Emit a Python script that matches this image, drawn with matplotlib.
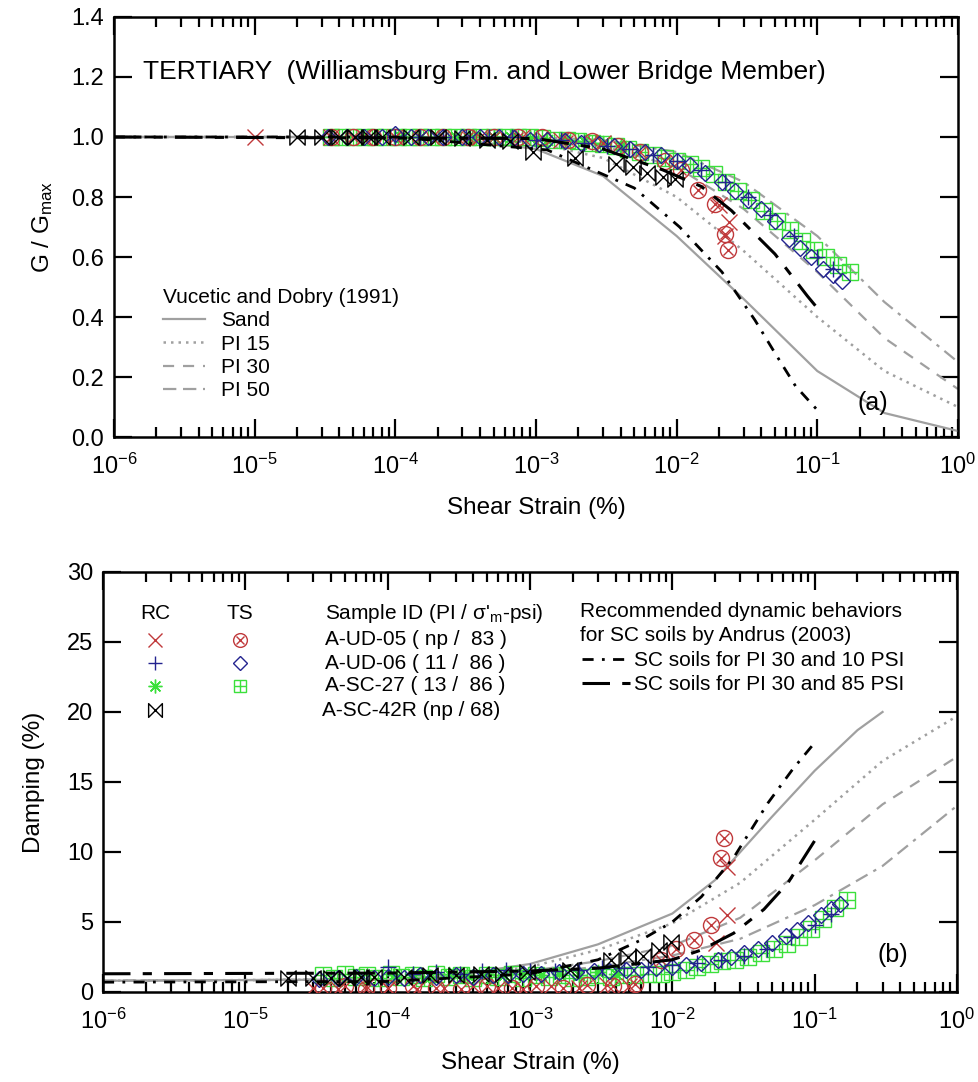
import numpy as np
import matplotlib.pyplot as plt
from matplotlib.path import Path
from matplotlib.ticker import FixedLocator, LogLocator, FuncFormatter, NullFormatter, MultipleLocator

plt.rcParams['font.family'] = ['Liberation Sans', 'DejaVu Sans']
plt.rcParams['mathtext.fontset'] = 'custom'
plt.rcParams['mathtext.rm'] = 'Liberation Sans'
plt.rcParams['mathtext.it'] = 'Liberation Sans:italic'

# ---------------- data: G/Gmax (top panel) ----------------
decades = [1e-6, 1e-5, 1e-4, 1e-3, 1e-2, 1e-1, 1.0]

# Vucetic and Dobry (1991)
vd_strain = [1e-6, 1e-4, 3e-4, 1e-3, 3e-3, 1e-2, 3e-2, 1e-1, 3e-1, 1.0]
vd_sand_g = [1.0, 1.0, 0.99, 0.96, 0.87, 0.67, 0.46, 0.22, 0.08, 0.02]
vd_pi15_g = [1.0, 1.0, 1.0, 0.98, 0.93, 0.80, 0.62, 0.40, 0.22, 0.10]
vd_pi30_g = [1.0, 1.0, 1.0, 1.0, 0.97, 0.90, 0.76, 0.55, 0.33, 0.16]
vd_pi50_g = [1.0, 1.0, 1.0, 1.0, 0.99, 0.95, 0.85, 0.67, 0.45, 0.25]

# Andrus (2003) SC soils, PI 30
and10_strain_g = [1e-6, 1e-4, 1.2e-3, 5e-3, 1.05e-2, 2.1e-2, 3.6e-2, 5e-2, 7e-2, 1e-1]
and10_g = [1.0, 1.0, 0.957, 0.83, 0.70, 0.55, 0.39, 0.28, 0.17, 0.09]
and85_strain_g = [1e-6, 1e-3, 3e-3, 8e-3, 1.5e-2, 2.45e-2, 5e-2, 8.5e-2, 1e-1]
and85_g = [1.0, 0.995, 0.96, 0.89, 0.835, 0.755, 0.61, 0.47, 0.43]

# A-UD-05 (red)
ud05_rc_strain_g = [1e-5, 3.5e-5, 6e-5, 1e-4, 2e-4, 4e-4, 8e-4, 1.5e-3, 3e-3, 1.99e-2, 2.2e-2, 2.35e-2]
ud05_rc_g = [1.0, 1.0, 1.0, 1.0, 1.0, 1.0, 1.0, 0.99, 0.98, 0.773, 0.67, 0.717]
ud05_ts_strain = [3.5e-5, 5e-5, 7e-5, 1e-4, 1.5e-4, 2.2e-4, 3.3e-4, 5e-4, 7.5e-4, 1.1e-3,
                  1.7e-3, 2.5e-3, 3.8e-3, 5.5e-3, 8.3e-3, 1.07e-2, 1.41e-2, 1.86e-2, 2.19e-2, 2.3e-2]
ud05_ts_g = [1.0, 1.0, 1.0, 1.0, 1.0, 1.0, 1.0, 1.0, 1.0, 1.0,
             0.99, 0.985, 0.97, 0.95, 0.92, 0.89, 0.823, 0.777, 0.677, 0.623]

# A-UD-06 (blue)
ud06_rc_strain = [1e-4, 1.5e-4, 2.2e-4, 3.2e-4, 4.6e-4, 6.8e-4, 1e-3, 1.5e-3, 2.2e-3, 3.2e-3,
                  4.6e-3, 6.8e-3, 1e-2, 1.5e-2, 2.2e-2, 3.2e-2, 4.6e-2, 6.8e-2, 1e-1, 1.3e-1]
ud06_rc_g = [1.0, 1.0, 1.0, 1.0, 1.0, 1.0, 0.99, 0.99, 0.98, 0.97,
             0.96, 0.94, 0.92, 0.89, 0.85, 0.80, 0.74, 0.67, 0.60, 0.56]
ud06_ts_strain = [3.3e-5, 4.5e-5, 6e-5, 8e-5, 1e-4, 1.3e-4, 1.7e-4, 2.2e-4, 3e-4, 4e-4,
                  5.5e-4, 7e-4, 9e-4, 1.2e-3, 1.6e-3, 2.1e-3, 2.8e-3, 3.6e-3, 4.7e-3, 6e-3,
                  7.7e-3, 1e-2, 1.25e-2, 1.6e-2, 2.1e-2, 2.6e-2, 3.2e-2, 4e-2, 5e-2, 6.3e-2,
                  7.5e-2, 9e-2, 1.1e-1, 1.3e-1, 1.5e-1]
ud06_ts_g = [1.0, 1.0, 1.0, 1.0, 1.01, 1.0, 1.0, 1.0, 1.0, 1.0,
             1.0, 0.995, 0.99, 0.99, 0.985, 0.98, 0.975, 0.97, 0.96, 0.95,
             0.94, 0.92, 0.905, 0.88, 0.85, 0.82, 0.79, 0.76, 0.72, 0.66,
             0.63, 0.60, 0.56, 0.54, 0.52]

# A-SC-27 (green)
sc27_rc_strain = [1.1e-4, 1.5e-4, 2e-4, 2.7e-4, 3.6e-4, 5e-4, 6.6e-4, 9e-4, 1.2e-3, 1.6e-3,
                  2.2e-3, 3e-3, 4e-3]
sc27_rc_g = [1.0, 1.0, 1.0, 1.0, 1.0, 1.0, 1.0, 0.995, 0.99, 0.99, 0.985, 0.98, 0.97]
sc27_ts_strain = [3.5e-5, 4.2e-5, 5e-5, 6e-5, 7.2e-5, 8.6e-5, 1.05e-4, 1.25e-4, 1.5e-4, 1.8e-4,
                  2.2e-4, 2.7e-4, 3.3e-4, 4e-4, 5e-4, 6e-4, 7.5e-4, 9e-4, 1.1e-3, 1.35e-3,
                  1.65e-3, 2e-3, 2.5e-3, 3e-3, 3.7e-3, 4.5e-3, 5.5e-3, 6.8e-3, 8.3e-3, 1e-2,
                  1.25e-2, 1.5e-2, 1.85e-2, 2.25e-2, 2.75e-2, 3.4e-2, 4.2e-2, 5.2e-2, 6.4e-2, 7.8e-2,
                  9.5e-2, 1.15e-1, 1.4e-1, 1.7e-1]
sc27_ts_g = [1.0, 1.0, 1.0, 1.0, 1.0, 1.0, 1.0, 1.0, 1.0, 1.0,
             1.0, 1.0, 1.0, 1.0, 1.0, 1.0, 1.0, 1.0, 0.995, 0.99,
             0.99, 0.985, 0.98, 0.975, 0.97, 0.96, 0.95, 0.94, 0.93, 0.92,
             0.91, 0.895, 0.875, 0.85, 0.82, 0.79, 0.755, 0.72, 0.69, 0.655,
             0.625, 0.60, 0.575, 0.55]

# A-SC-42R (black)
sc42_strain = [2e-5, 3e-5, 4e-5, 5.2e-5, 6.5e-5, 8e-5, 1.3e-4, 2e-4, 3e-4, 4.5e-4,
               6.5e-4, 9.5e-4, 1.9e-3, 3.7e-3, 4.9e-3, 6.2e-3, 8e-3, 9.8e-3]
sc42_g = [1.0, 1.0, 1.0, 1.0, 1.0, 1.0, 1.0, 1.0, 0.995, 0.99,
          0.985, 0.95, 0.93, 0.91, 0.90, 0.88, 0.867, 0.86]

# ---------------- data: damping (bottom panel) ----------------
vd_sand_strain_d = [1e-6, 1e-4, 3e-4, 1e-3, 3e-3, 1e-2, 2e-2, 5e-2, 1e-1, 2e-1, 3e-1]
vd_sand_d = [0.8, 0.9, 1.2, 2.0, 3.4, 5.6, 8.0, 12.5, 15.8, 18.7, 20.0]
vd_pi15_d = [0.8, 0.9, 1.1, 1.8, 3.0, 4.9, 7.8, 12.3, 16.5, 19.7]
vd_pi30_d = [0.8, 0.9, 1.1, 1.5, 2.2, 3.3, 5.3, 9.4, 13.4, 16.8]
vd_pi50_d = [0.8, 0.9, 1.0, 1.3, 1.8, 2.6, 3.8, 6.2, 9.0, 13.3]

and10_strain_d = [1e-6, 1e-4, 1e-3, 3e-3, 6e-3, 1e-2, 1.6e-2, 2.7e-2, 4.7e-2, 7e-2, 1e-1]
and10_d = [0.7, 0.75, 1.3, 2.3, 3.7, 5.0, 6.8, 9.6, 13.5, 15.9, 17.8]
and85_strain_d = [1e-6, 1e-4, 1e-3, 3e-3, 1e-2, 1.6e-2, 2.7e-2, 4.4e-2, 6.5e-2, 1e-1]
and85_d = [1.3, 1.35, 1.5, 1.7, 2.3, 3.0, 4.2, 5.9, 7.8, 10.8]

ud05_rc_strain_d = [3e-5, 4.5e-5, 7e-5, 1e-4, 1.6e-4, 2.5e-4, 4e-4, 6e-4, 9e-4, 1.4e-3,
                    2.2e-3, 3.5e-3, 5e-3, 2.04e-2, 2.43e-2, 2.43e-2]
ud05_rc_d = [0.3, 0.2, 0.4, 0.3, 0.2, 0.3, 0.4, 0.3, 0.2, 0.4, 0.3, 0.5, 0.4, 3.5, 5.5, 8.9]
ud05_ts_d = [0.3, 0.4, 0.2, 0.3, 0.4, 0.3, 0.2, 0.4, 0.3, 0.4,
             0.3, 0.5, 0.4, 0.6, 2.3, 3.1, 3.7, 4.8, 9.6, 11.0]
ud06_rc_d = [1.8, 1.3, 1.4, 1.3, 1.5, 1.6, 1.5, 1.5, 1.6, 1.7,
             1.7, 1.8, 1.9, 2.1, 2.3, 2.6, 3.1, 3.9, 4.8, 5.6]
ud06_ts_d = [0.9, 1.0, 1.1, 1.0, 1.1, 1.0, 1.2, 1.1, 1.2, 1.1,
             1.2, 1.2, 1.3, 1.3, 1.4, 1.4, 1.5, 1.5, 1.6, 1.6,
             1.7, 1.8, 1.9, 2.1, 2.3, 2.5, 2.8, 3.1, 3.5, 4.0,
             4.4, 4.9, 5.5, 5.9, 6.3]
sc27_rc_d = [1.2, 1.3, 1.1, 1.3, 1.2, 1.3, 1.2, 1.3, 1.2, 1.3, 1.2, 1.4, 1.3]
sc27_ts_d = [1.2, 1.0, 1.3, 1.1, 1.2, 1.0, 1.3, 1.1, 1.2, 1.0,
             1.3, 1.1, 1.2, 1.0, 1.2, 1.1, 1.3, 1.0, 1.2, 1.1,
             1.2, 1.0, 1.1, 1.2, 1.1, 1.2, 1.2, 1.3, 1.3, 1.4,
             1.6, 1.8, 2.0, 2.2, 2.3, 2.5, 2.8, 3.1, 3.4, 3.9,
             4.5, 5.2, 6.0, 6.6]
sc42_d = [1.0, 1.0, 1.0, 1.0, 1.1, 1.1, 1.1, 1.2, 1.2, 1.3,
          1.3, 1.4, 1.6, 2.3, 2.5, 2.6, 3.0, 3.6]

# ---------------- styles ----------------
RED = '#c0393b'
BLUE = '#23238f'
GREEN = '#3be03b'
GRAY = '#a0a0a0'
bowtie = Path([(-1, -1), (1, 1), (1, -1), (-1, 1), (-1, -1)],
              [Path.MOVETO, Path.LINETO, Path.LINETO, Path.LINETO, Path.CLOSEPOLY])
asterisk = (8, 2, 0)
MS = 11
FS = 15


def style_axes(ax, ylim, ystep, yfmt):
    ax.set_xscale('log')
    ax.set_xlim(1e-6, 1)
    ax.set_ylim(*ylim)
    ax.xaxis.set_major_locator(FixedLocator(decades))
    ax.xaxis.set_minor_locator(LogLocator(base=10, subs=np.arange(2, 10), numticks=20))
    ax.xaxis.set_minor_formatter(NullFormatter())
    ax.xaxis.set_major_formatter(FuncFormatter(
        lambda v, p: r'$\mathregular{10^{%d}}$' % int(round(np.log10(v)))))
    ax.yaxis.set_major_locator(MultipleLocator(ystep))
    ax.yaxis.set_major_formatter(FuncFormatter(lambda v, p: yfmt.format(v)))
    ax.tick_params(which='both', direction='in', top=True, right=True, width=1.6,
                   labelsize=17, colors='black')
    ax.tick_params(axis='x', which='major', length=13, pad=12)
    ax.tick_params(axis='y', which='major', length=13, pad=7)
    ax.tick_params(which='minor', length=7)
    for s in ax.spines.values():
        s.set_linewidth(1.8)
    ax.set_xlabel('Shear Strain (%)', fontsize=17.5, labelpad=13)


def markers(ax, ud05x, ud05y, ud05tx, ud05ty, ud06x, ud06y, ud06tx, ud06ty,
            sc27x, sc27y, sc27tx, sc27ty, sc42x, sc42y):
    kw = dict(ls='none', mew=1.0, zorder=3)
    ax.plot(sc27tx, sc27ty, marker='s', ms=MS, mfc='none', mec=GREEN, **kw)
    ax.plot(sc27tx, sc27ty, marker='+', ms=MS, mec=GREEN, **kw)
    ax.plot(sc27x, sc27y, marker=asterisk, ms=MS, mec=GREEN, **kw)
    ax.plot(ud05tx, ud05ty, marker='o', ms=MS * 1.05, mfc='none', mec=RED, **kw)
    ax.plot(ud05tx, ud05ty, marker='x', ms=MS * 0.65, mec=RED, **kw)
    ax.plot(ud05x, ud05y, marker='x', ms=MS, mec=RED, **kw)
    ax.plot(ud06tx, ud06ty, marker='D', ms=MS * 0.75, mfc='none', mec=BLUE, **kw)
    ax.plot(ud06x, ud06y, marker='+', ms=MS, mec=BLUE, **kw)
    ax.plot(sc42x, sc42y, marker=bowtie, ms=MS, mfc='none', mec='black', **kw)


fig = plt.figure(figsize=(9.79, 10.82), dpi=100)
ax1 = fig.add_axes([0.1164, 0.5961, 0.8621, 0.3882])
ax2 = fig.add_axes([0.1052, 0.0832, 0.8723, 0.3882])

# ---------------- top panel ----------------
l_sand, = ax1.plot(vd_strain, vd_sand_g, color=GRAY, lw=1.6, zorder=2)
l_pi15, = ax1.plot(vd_strain, vd_pi15_g, color=GRAY, lw=1.8, ls=(0, (1, 2)), zorder=2)
l_pi30, = ax1.plot(vd_strain, vd_pi30_g, color=GRAY, lw=1.6, ls=(0, (5, 4)), zorder=2)
l_pi50, = ax1.plot(vd_strain, vd_pi50_g, color=GRAY, lw=1.6, ls=(0, (6, 3, 6, 3, 1.5, 3)), zorder=2)
markers(ax1, ud05_rc_strain_g, ud05_rc_g, ud05_ts_strain, ud05_ts_g,
        ud06_rc_strain, ud06_rc_g, ud06_ts_strain, ud06_ts_g,
        sc27_rc_strain, sc27_rc_g, sc27_ts_strain, sc27_ts_g, sc42_strain, sc42_g)
ax1.plot(and10_strain_g, and10_g, color='black', lw=2, ls=(0, (4, 3, 1, 3)), zorder=4)
ax1.plot(and85_strain_g, and85_g, color='black', lw=2.2, ls=(0, (9, 4, 3, 4)), zorder=4)

style_axes(ax1, (0, 1.4), 0.2, '{:.1f}')
ax1.set_ylabel(r'G / G$_{\mathregular{max}}$', fontsize=17.5, labelpad=12)
ax1.text(0.034, 0.869, 'TERTIARY  (Williamsburg Fm. and Lower Bridge Member)',
         transform=ax1.transAxes, fontsize=19, va='center')
ax1.text(0.899, 0.081, '(a)', transform=ax1.transAxes, fontsize=18, ha='center', va='center')
ax1.legend([l_sand, l_pi15, l_pi30, l_pi50], ['Sand', 'PI 15', 'PI 30', 'PI 50'],
           title='Vucetic and Dobry (1991)', loc='upper left',
           bbox_to_anchor=(0.058, 0.354), frameon=False, fontsize=FS,
           title_fontsize=FS, handlelength=2.0, handletextpad=0.8,
           labelspacing=0.2, borderpad=0, borderaxespad=0, alignment='left')

# ---------------- bottom panel ----------------
ax2.plot(vd_sand_strain_d, vd_sand_d, color=GRAY, lw=1.6, zorder=2)
ax2.plot(vd_strain, vd_pi15_d, color=GRAY, lw=1.8, ls=(0, (1, 2)), zorder=2)
ax2.plot(vd_strain, vd_pi30_d, color=GRAY, lw=1.6, ls=(0, (5, 4)), zorder=2)
ax2.plot(vd_strain, vd_pi50_d, color=GRAY, lw=1.6, ls=(0, (6, 3, 6, 3, 1.5, 3)), zorder=2)
markers(ax2, ud05_rc_strain_d, ud05_rc_d, ud05_ts_strain, ud05_ts_d,
        ud06_rc_strain, ud06_rc_d, ud06_ts_strain, ud06_ts_d,
        sc27_rc_strain, sc27_rc_d, sc27_ts_strain, sc27_ts_d, sc42_strain, sc42_d)
a10, = ax2.plot(and10_strain_d, and10_d, color='black', lw=2, ls=(0, (4, 3, 1, 3)), zorder=4)
a85, = ax2.plot(and85_strain_d, and85_d, color='black', lw=2.2, ls=(0, (9, 4, 3, 4)), zorder=4)

style_axes(ax2, (0, 30), 5, '{:.0f}')
ax2.set_ylabel('Damping (%)', fontsize=17.5, labelpad=16)
ax2.text(0.925, 0.088, '(b)', transform=ax2.transAxes, fontsize=18, ha='center', va='center')

# sample key table
T = ax2.transAxes
ax2.text(0.061, 0.902, 'RC', transform=T, fontsize=FS, ha='center', va='center')
ax2.text(0.160, 0.902, 'TS', transform=T, fontsize=FS, ha='center', va='center')
ax2.text(0.260, 0.902, "Sample ID (PI / σ'$_{\\mathregular{m}}$-psi)", transform=T,
         fontsize=FS, va='center')
rows_y = [0.838, 0.783, 0.729, 0.671]
row_names = ['A-UD-05 ( np /  83 )', 'A-UD-06 ( 11 /  86 )',
             'A-SC-27 ( 13 /  86 )', 'A-SC-42R (np / 68)']
kk = dict(transform=T, ls='none', mew=1.0, clip_on=False)
ax2.plot(0.061, rows_y[0], marker='x', ms=MS * 0.9, mec=RED, **kk)
ax2.plot(0.160, rows_y[0], marker='o', ms=MS * 0.9, mfc='none', mec=RED, **kk)
ax2.plot(0.160, rows_y[0], marker='x', ms=MS * 0.55, mec=RED, **kk)
ax2.plot(0.061, rows_y[1], marker='+', ms=MS * 0.9, mec=BLUE, **kk)
ax2.plot(0.160, rows_y[1], marker='D', ms=MS * 0.65, mfc='none', mec=BLUE, **kk)
ax2.plot(0.061, rows_y[2], marker=asterisk, ms=MS * 0.9, mec=GREEN, **kk)
ax2.plot(0.160, rows_y[2], marker='s', ms=MS * 0.85, mfc='none', mec=GREEN, **kk)
ax2.plot(0.160, rows_y[2], marker='+', ms=MS * 0.85, mec=GREEN, **kk)
ax2.plot(0.061, rows_y[3], marker=bowtie, ms=MS * 0.9, mfc='none', mec='black', **kk)
for y, name in zip(rows_y, row_names):
    ax2.text(0.260 if not name.startswith('A-SC-42R') else 0.257, y, name,
             transform=T, fontsize=FS, va='center')

# Andrus legend
ax2.text(0.5585, 0.905, 'Recommended dynamic behaviors', transform=T, fontsize=FS, va='center')
ax2.text(0.5585, 0.848, 'for SC soils by Andrus (2003)', transform=T, fontsize=FS, va='center')
ax2.legend([a10, a85], ['SC soils for PI 30 and 10 PSI', 'SC soils for PI 30 and 85 PSI'],
           loc='upper left', bbox_to_anchor=(0.561, 0.812), frameon=False, fontsize=FS,
           handlelength=2.3, handletextpad=0.2, labelspacing=0.25, borderpad=0,
           borderaxespad=0)

fig.savefig('out.png', dpi=100)
